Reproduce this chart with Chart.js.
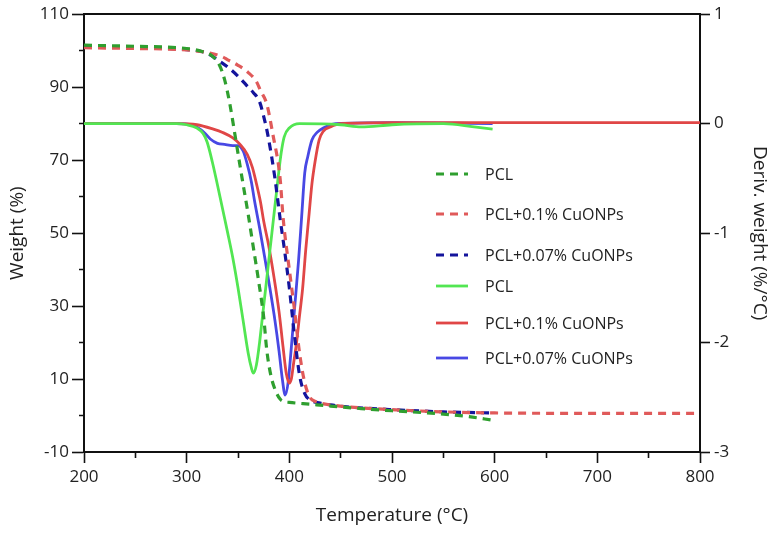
<!DOCTYPE html>
<html><head><meta charset="utf-8">
<script src="https://cdn.jsdelivr.net/npm/chart.js@4.4.0/dist/chart.umd.min.js"></script>
<style>html,body{margin:0;padding:0;background:#fff}#wrap{width:774px;height:534px}</style>
</head><body><div id="wrap"><canvas id="c" width="774" height="534"></canvas></div>
<script>
// ---- Data ----
const seriesLabels = ['PCL', 'PCL+0.1% CuONPs', 'PCL+0.07% CuONPs'];

// TGA weight (%) curves (dashed, left axis)
const tgaPclT = [200,250,300,315,325,332,337,342,347,354,360,365,370,375,378,382,387,391,395,400,420,440,470,500,530,550,575,598];
const tgaPclW = [101.5,101.2,100.6,99.8,98.5,96,92,85.5,77,65,55,46,37,27,18,11,6.5,4.5,3.8,3.6,3.1,2.6,1.9,1.3,0.8,0.4,-0.3,-1.3];

const tgaCu01T = [200,250,300,320,335,340,350,360,368,372,378,384,391,394,400,405,410,415,420,425,430,440,460,500,550,600,700,800];
const tgaCu01W = [100.8,100.6,100.2,99.5,98.3,97.5,96,94,91.5,89,85.4,77,65,54,40,29,17,9,5,3.9,3.4,2.9,2.3,1.6,1.0,0.7,0.6,0.6];

const tgaCu007T = [200,250,300,320,330,340,350,360,365,371,375,379,386,391,395,400,405,410,415,420,430,440,460,500,550,598];
const tgaCu007W = [101,100.8,100.3,99.3,97.5,95.5,93,90,88.5,86,82,77,65,54,46,35,22,11,6,4.3,3.4,2.9,2.3,1.6,1.0,0.7];

// DTG derivative weight (%/°C) curves (solid, right axis)
const dtgPclT = [200,250,290,300,310,316,320,325,330,335,340,345,350,355,360,363,365,368,371,374,377,380,383,386,389,392,395,400,410,450,470,500,550,580,598];
const dtgPclD = [0,0,0,-0.01,-0.04,-0.09,-0.17,-0.35,-0.56,-0.78,-1.0,-1.23,-1.5,-1.8,-2.1,-2.23,-2.28,-2.2,-2.0,-1.75,-1.5,-1.25,-1.0,-0.75,-0.5,-0.27,-0.12,-0.04,0,-0.01,-0.03,-0.01,0,-0.03,-0.05];

const dtgCu01T = [200,250,290,310,326,335,345,352,359,364,368,372,375,380,385,390,394,397,400,402,404,407,410,413,416,419,422,425,429,433,440,450,500,600,700,800];
const dtgCu01D = [0,0,0,-0.01,-0.05,-0.08,-0.13,-0.19,-0.28,-0.4,-0.55,-0.72,-0.89,-1.12,-1.4,-1.72,-2.05,-2.28,-2.37,-2.33,-2.2,-2.0,-1.75,-1.5,-1.15,-0.85,-0.55,-0.35,-0.15,-0.07,-0.03,0,0.01,0.01,0.01,0.01];

const dtgCu007T = [200,250,290,305,313,318,323,330,337,345,350,355,359,363,366,371,376,381,386,390,393,396,399,402,405,409,412,415,418,422,427,433,445,500,598];
const dtgCu007D = [0,0,0,-0.01,-0.05,-0.09,-0.14,-0.18,-0.19,-0.2,-0.2,-0.25,-0.37,-0.53,-0.70,-0.95,-1.22,-1.5,-1.8,-2.08,-2.32,-2.48,-2.35,-2.04,-1.7,-1.25,-0.85,-0.45,-0.3,-0.15,-0.08,-0.04,0,0.01,0];

// Axis ranges / ticks
const xMin = 200, xMax = 800, xStep = 50;
const wMin = -10, wMax = 110, wStep = 10;
const dMin = -3, dMax = 1, dStep = 1;

function pts(xs, ys) { return xs.map((x, i) => ({x: x, y: ys[i]})); }

const FONT = "'Open Sans', 'DejaVu Sans', sans-serif";
const TXT = '#222';

function ds(label, xs, ys, color, dashed, axis) {
  return {
    label: label,
    data: pts(xs, ys),
    borderColor: color,
    backgroundColor: color,
    borderWidth: dashed ? 3.2 : 2.8,
    borderDash: dashed ? [8, 6] : [],
    pointRadius: 0,
    fill: false,
    tension: 0.4,
    cubicInterpolationMode: 'monotone',
    yAxisID: axis
  };
}

const datasets = [
  ds(seriesLabels[0], tgaPclT, tgaPclW, '#2f9f2f', true, 'y'),
  ds(seriesLabels[1], tgaCu01T, tgaCu01W, '#e05a5a', true, 'y'),
  ds(seriesLabels[2], tgaCu007T, tgaCu007W, '#14149c', true, 'y'),
  ds(seriesLabels[0], dtgPclT, dtgPclD, '#52e652', false, 'y1'),
  ds(seriesLabels[1], dtgCu01T, dtgCu01D, '#e04646', false, 'y1'),
  ds(seriesLabels[2], dtgCu007T, dtgCu007D, '#4848e4', false, 'y1')
];

// Legend placed inside the plot (custom positions)
const legendPos = { lineX1: 436, lineX2: 468, textX: 485, ys: [174, 214, 255, 286, 323, 358] };
const insideLegend = {
  id: 'insideLegend',
  afterDraw(chart) {
    const ctx = chart.ctx;
    ctx.save();
    chart.data.datasets.forEach((d, i) => {
      const y = legendPos.ys[i];
      ctx.beginPath();
      ctx.setLineDash(d.borderDash);
      ctx.strokeStyle = d.borderColor;
      ctx.lineWidth = d.borderWidth;
      ctx.moveTo(legendPos.lineX1, y);
      ctx.lineTo(legendPos.lineX2, y);
      ctx.stroke();
      ctx.setLineDash([]);
      ctx.fillStyle = TXT;
      ctx.font = '16px ' + FONT;
      ctx.textBaseline = 'middle';
      ctx.textAlign = 'left';
      ctx.fillText(d.label, legendPos.textX, y + 1);
    });
    ctx.restore();
  }
};

new Chart(document.getElementById('c'), {
  type: 'line',
  data: { datasets: datasets },
  plugins: [insideLegend],
  options: {
    responsive: false,
    animation: false,
    layout: { padding: { top: 13, right: 0, bottom: 0, left: 0 } },
    plugins: { legend: { display: false }, tooltip: { enabled: false } },
    scales: {
      x: {
        type: 'linear', position: 'bottom', min: xMin, max: xMax,
        afterFit(s) { s.height = 82; },
        border: { display: true, color: '#111', width: 2 },
        grid: {
          drawOnChartArea: false, drawTicks: true, tickLength: 11, tickColor: '#111', tickWidth: 1.6,
          tickBorderDash: (c) => (c.tick && c.tick.value % 100 !== 0) ? [5, 100] : []
        },
        ticks: {
          stepSize: xStep, padding: 4, color: TXT, font: { family: FONT, size: 17 },
          maxRotation: 0, autoSkip: false,
          callback: (v) => (v % 100 === 0 ? String(v) : '')
        },
        title: { display: true, text: 'Temperature (°C)', color: TXT, font: { family: FONT, size: 19 }, padding: { top: 0, bottom: 7 } }
      },
      x2: {
        type: 'linear', position: 'top', min: xMin, max: xMax,
        afterFit(s) { s.height = 0; },
        border: { display: true, color: '#111', width: 2 },
        grid: { display: false },
        ticks: { display: false }
      },
      y: {
        type: 'linear', position: 'left', min: wMin, max: wMax,
        afterFit(s) { s.width = 84; },
        border: { display: true, color: '#111', width: 2 },
        grid: {
          drawOnChartArea: false, drawTicks: true, tickLength: 12, tickColor: '#111', tickWidth: 1.6,
          tickBorderDash: (c) => (c.tick && Math.abs(Math.round(c.tick.value) % 20) !== 10) ? [0, 7, 5, 100] : []
        },
        ticks: {
          stepSize: wStep, padding: 3, color: TXT, font: { family: FONT, size: 17 }, autoSkip: false,
          callback: (v) => (Math.abs(Math.round(v) % 20) === 10 ? String(v) : '')
        },
        title: { display: true, text: 'Weight (%)', color: TXT, font: { family: FONT, size: 19 }, padding: { top: 6, bottom: 0 } }
      },
      y1: {
        type: 'linear', position: 'right', min: dMin, max: dMax,
        afterFit(s) { s.width = 74; },
        border: { display: true, color: '#111', width: 2 },
        grid: { drawOnChartArea: false, drawTicks: true, tickLength: 10, tickColor: '#111', tickWidth: 1.6 },
        ticks: { stepSize: dStep, padding: 4, color: TXT, font: { family: FONT, size: 17 }, autoSkip: false },
        title: { display: true, text: 'Deriv. weight (%/°C)', color: TXT, font: { family: FONT, size: 19 }, padding: { top: 3, bottom: 0 } }
      }
    }
  }
});
</script>
</body></html>
